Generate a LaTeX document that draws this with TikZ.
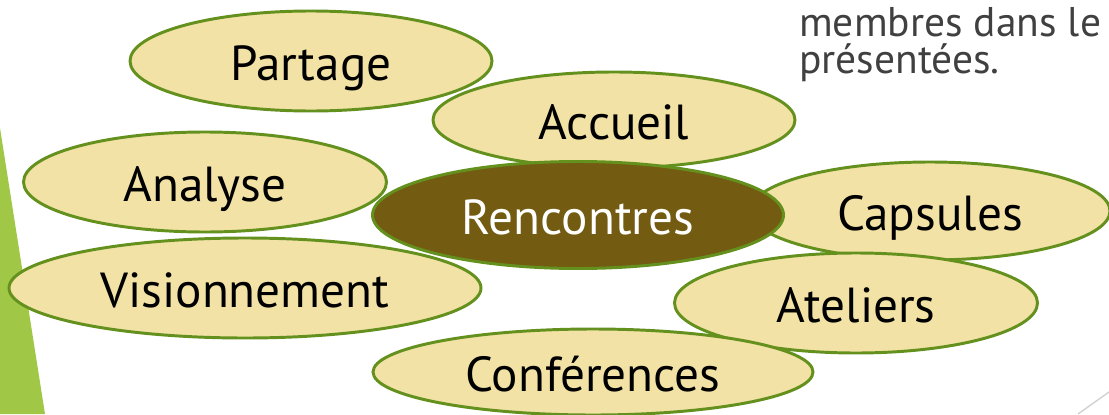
\documentclass[tikz,border=0pt]{standalone}
\usepackage{fontspec}
\setmainfont{PT Sans}
\usetikzlibrary{shapes.geometric}
\definecolor{bulle}{HTML}{F3E2A5}
\definecolor{bord}{HTML}{64911E}
\definecolor{brun}{HTML}{735C12}
\definecolor{barre}{HTML}{A0C846}
\definecolor{gristexte}{HTML}{404040}
\begin{document}
\begin{tikzpicture}[x=0.025cm,y=-0.025cm,
 bulle/.style={ellipse,draw=bord,fill=bulle,line width=2.1pt,inner sep=0pt,text height=27.7pt,text depth=0pt,font=\fontsize{35}{40}\selectfont},
 centre/.style={bulle,fill=brun,text=white},
 taille/.style 2 args={minimum width=#1*0.025cm,minimum height=#2*0.025cm}]
 \useasboundingbox (0,0) rectangle (1109,414);
 \fill[barre](0,128)--(45,414)--(0,414)--cycle;
 \draw[gray!35,line width=1pt](1078,414)--(1109,392);
 \node[anchor=base west,inner sep=0pt,align=left,text=gristexte,font=\fontsize{29.5}{26.3}\selectfont] (notes) at (799,73) {membres dans le\\présentées.};
 \node[bulle,taille={362}{100}] (partage) at (311,61) {Partage};
 \node[bulle,taille={362}{96}] (accueil) at (614,120) {Accueil};
 \node[bulle,taille={363}{100}] (analyse) at (205,182) {Analyse};
 \node[bulle,taille={360}{98}] (capsules) at (930,211) {Capsules};
 \node[bulle,taille={363}{100}] (ateliers) at (856,303) {Ateliers};
 \node[bulle,taille={472}{100}] (visionnement) at (245,288) {Visionnement};
 \node[centre,taille={411}{107}] (rencontres) at (578,215) {Rencontres};
 \node[bulle,taille={440}{86}] (conferences) at (593,372) {Conférences};
\end{tikzpicture}
\end{document}
